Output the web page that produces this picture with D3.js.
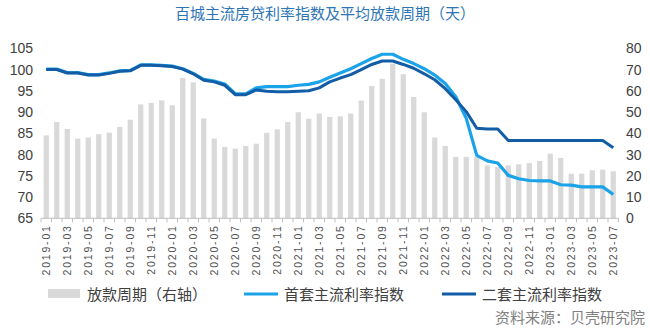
<!DOCTYPE html>
<html>
<head>
<meta charset="utf-8">
<script src="https://cdn.jsdelivr.net/npm/d3@7/dist/d3.min.js"></script>
<style>
  html, body { margin: 0; padding: 0; background: #fff; }
  svg { display: block; }
  .cjk { font-family: "Noto Sans CJK SC", "Noto Sans", sans-serif; }
  .num { font-family: "Liberation Sans", Arial, sans-serif; }
</style>
</head>
<body>
<svg id="chart" width="650" height="330"></svg>
<script>
// Months 2019-01 .. 2023-07
const months = [
  "2019-01","2019-02","2019-03","2019-04","2019-05","2019-06","2019-07","2019-08","2019-09","2019-10","2019-11","2019-12",
  "2020-01","2020-02","2020-03","2020-04","2020-05","2020-06","2020-07","2020-08","2020-09","2020-10","2020-11","2020-12",
  "2021-01","2021-02","2021-03","2021-04","2021-05","2021-06","2021-07","2021-08","2021-09","2021-10","2021-11","2021-12",
  "2022-01","2022-02","2022-03","2022-04","2022-05","2022-06","2022-07","2022-08","2022-09","2022-10","2022-11","2022-12",
  "2023-01","2023-02","2023-03","2023-04","2023-05","2023-06","2023-07"
];

// Average loan disbursement period, days (right axis)
const loanPeriod = [
  39, 45.3, 42, 37.5, 38, 39.6, 40.3, 43, 46.4, 53.6, 54.3, 55.5,
  53.2, 66, 64, 47, 37.5, 33.6, 32.8, 34, 35.1, 40.2, 41.9, 45.3,
  49.9, 46.9, 49.3, 47.7, 48, 49.3, 55.4, 62.3, 65.6, 72.8, 67.8, 57.1,
  49.9, 38, 34, 28.9, 28.9, 28.9, 24.9, 24.2, 24.9, 25.4, 26, 27,
  30.4, 28.4, 21, 21, 22.6, 22.9, 22.1
];

// First-home mainstream mortgage rate index (left axis)
const firstHomeIndex = [
  100.1, 100.1, 99.3, 99.3, 98.8, 98.8, 99.2, 99.7, 99.8, 101.1, 101.1, 101,
  100.8, 100.2, 99.1, 97.7, 97.3, 96.6, 94.3, 94.3, 95.7, 96, 96, 96,
  96.3, 96.5, 97.1, 98.2, 99.2, 100.2, 101.4, 102.6, 103.6, 103.6, 102.4, 101.4,
  100.2, 98.7, 96.7, 93.6, 88.5, 79.8, 78.5, 78, 75.1, 74.3, 73.9, 73.8,
  73.8, 72.9, 72.8, 72.4, 72.4, 72.4, 70.6
];

// Second-home mainstream mortgage rate index (left axis)
const secondHomeIndex = [
  100, 100, 99.2, 99.2, 98.7, 98.7, 99.1, 99.6, 99.7, 101, 101, 100.9,
  100.7, 100.1, 99, 97.5, 97.1, 96.3, 94.1, 94.1, 95.2, 94.9, 94.8, 94.8,
  94.9, 95, 95.7, 97.1, 98, 98.8, 100, 101.2, 102, 102, 101.2, 100.3,
  99, 97.6, 95.5, 92.9, 90.1, 86.2, 86, 86, 83.3, 83.3, 83.3, 83.3,
  83.3, 83.3, 83.3, 83.3, 83.3, 83.3, 81.6
];

const leftTicks = [65, 70, 75, 80, 85, 90, 95, 100, 105];
const rightTicks = [0, 10, 20, 30, 40, 50, 60, 70, 80];
const monthLabels = months.filter((m, i) => i % 2 === 0);

const titleText = "百城主流房贷利率指数及平均放款周期（天）";
const legendLabels = ["放款周期（右轴）", "首套主流利率指数", "二套主流利率指数"];
const sourceText = "资料来源：贝壳研究院";

const colors = { bar: "#D9D9D9", first: "#1AA3E8", second: "#125DA6", title: "#2E75B6", axis: "#BFBFBF", text: "#404040", source: "#808080" };

const svg = d3.select("#chart");

const x = d3.scaleBand().domain(months).range([41, 618.5]).paddingInner(0.5).paddingOuter(0.25);
const yL = d3.scaleLinear().domain([65, 105]).range([218.3, 48.3]);
const yR = d3.scaleLinear().domain([0, 80]).range([218.3, 48.3]);
const xc = m => x(m) + x.bandwidth() / 2;

// Title
svg.append("text").attr("class", "cjk")
  .attr("x", 325).attr("y", 19).attr("text-anchor", "middle")
  .attr("font-size", 15).attr("fill", colors.title)
  .text(titleText);

// Bars (right axis)
svg.append("g").selectAll("rect").data(months).join("rect")
  .attr("x", d => x(d))
  .attr("width", x.bandwidth())
  .attr("y", (d, i) => yR(loanPeriod[i]))
  .attr("height", (d, i) => yR(0) - yR(loanPeriod[i]))
  .attr("fill", colors.bar);

// X axis with ticks at category boundaries
const xAxisG = svg.append("g").attr("transform", `translate(0,${yL(65)})`);
xAxisG.append("line").attr("x1", 41).attr("x2", 618.5).attr("stroke", colors.axis).attr("stroke-width", 1);
const step = x.step();
xAxisG.selectAll("line.tick").data(d3.range(months.length + 1)).join("line")
  .attr("class", "tick")
  .attr("x1", i => 41 + i * step).attr("x2", i => 41 + i * step)
  .attr("y1", 0).attr("y2", 4)
  .attr("stroke", colors.axis);
xAxisG.selectAll("text").data(monthLabels).join("text")
  .attr("class", "num")
  .attr("transform", d => `translate(${xc(d) + 3.5},6) rotate(-90)`)
  .attr("text-anchor", "end")
  .attr("font-size", 10.5).attr("letter-spacing", 1.8)
  .attr("fill", "#505050")
  .text(d => d);

// Left axis
const leftAxis = d3.axisLeft(yL).tickValues(leftTicks).tickSize(0).tickPadding(0);
const gL = svg.append("g").attr("transform", "translate(33,0)").call(leftAxis);
gL.select(".domain").remove();
gL.selectAll("text").attr("font-size", 14).attr("fill", colors.text).attr("font-family", "Liberation Sans, Arial, sans-serif");

// Right axis
const rightAxis = d3.axisRight(yR).tickValues(rightTicks).tickSize(0).tickPadding(0);
const gR = svg.append("g").attr("transform", "translate(626,0)").call(rightAxis);
gR.select(".domain").remove();
gR.selectAll("text").attr("font-size", 14).attr("fill", colors.text).attr("font-family", "Liberation Sans, Arial, sans-serif");

// Lines
const line = vals => d3.line().x((d, i) => xc(months[i])).y(d => yL(d)).curve(d3.curveLinear)(vals);
svg.append("path").attr("d", line(firstHomeIndex))
  .attr("fill", "none").attr("stroke", colors.first).attr("stroke-width", 3.2).attr("stroke-linejoin", "round");
svg.append("path").attr("d", line(secondHomeIndex))
  .attr("fill", "none").attr("stroke", colors.second).attr("stroke-width", 3).attr("stroke-linejoin", "round");

// Legend
const lg = svg.append("g");
lg.append("rect").attr("x", 48).attr("y", 289).attr("width", 32).attr("height", 9).attr("fill", colors.bar);
lg.append("line").attr("x1", 244).attr("x2", 278).attr("y1", 294).attr("y2", 294).attr("stroke", colors.first).attr("stroke-width", 3);
lg.append("line").attr("x1", 442).attr("x2", 476).attr("y1", 294).attr("y2", 294).attr("stroke", colors.second).attr("stroke-width", 3);
const legendX = [87, 284, 482];
lg.selectAll("text").data(legendLabels).join("text")
  .attr("class", "cjk")
  .attr("x", (d, i) => legendX[i]).attr("y", 299.5)
  .attr("font-size", 15).attr("fill", colors.text)
  .text(d => d);

// Source note
svg.append("text").attr("class", "cjk")
  .attr("x", 645).attr("y", 323).attr("text-anchor", "end")
  .attr("font-size", 15).attr("fill", colors.source)
  .text(sourceText);
</script>
</body>
</html>
